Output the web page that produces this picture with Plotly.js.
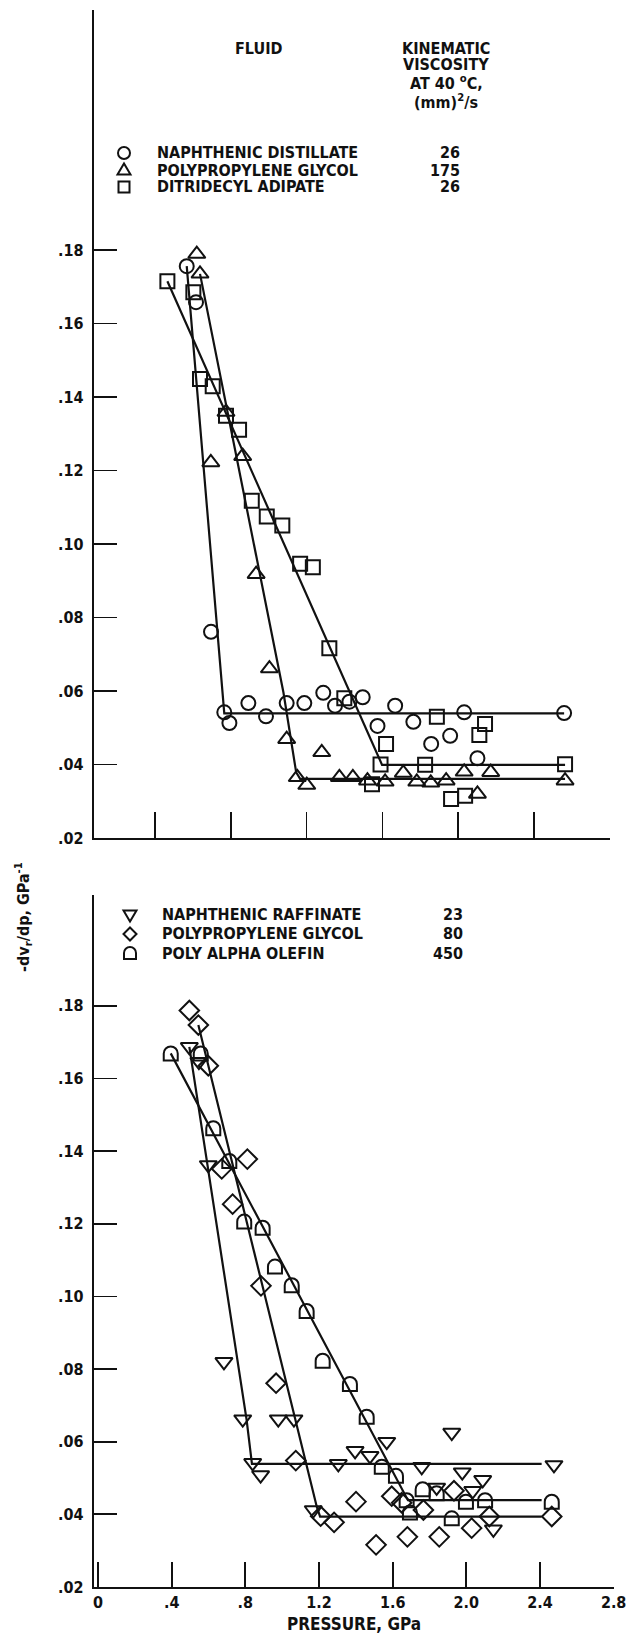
<!DOCTYPE html>
<html>
<head>
<meta charset="utf-8">
<script src="https://cdn.plot.ly/plotly-3.0.1.min.js"></script>
<style>html,body{margin:0;padding:0;background:#fff;}#chart{width:632px;height:1639px;}</style>
</head>
<body>
<div id="chart"></div>
<script>
// ---------- Top panel data ----------
const ndX = [0.568,0.617,0.696,0.766,0.793,0.893,0.986,1.095,1.188,1.288,1.350,1.426,1.496,1.574,1.667,1.763,1.857,1.957,2.031,2.101,2.558];
const ndY = [0.1756,0.1658,0.0761,0.0542,0.0513,0.0567,0.0531,0.0567,0.0567,0.0595,0.0560,0.0571,0.0583,0.0505,0.0560,0.0516,0.0456,0.0478,0.0542,0.0417,0.0540];
const ppg175X = [0.621,0.638,0.775,0.863,0.695,0.934,1.004,1.095,1.280,1.151,1.201,1.373,1.444,1.521,1.614,1.710,1.781,1.855,1.936,2.031,2.171,2.101,2.563];
const ppg175Y = [0.1789,0.1735,0.1359,0.1239,0.1222,0.0918,0.0661,0.0469,0.0433,0.0365,0.0344,0.0365,0.0365,0.0356,0.0353,0.0377,0.0353,0.0350,0.0356,0.0380,0.0379,0.0320,0.0356];
const dtaX = [0.466,0.603,0.638,0.705,0.775,0.844,0.911,0.990,1.072,1.166,1.233,1.320,1.399,1.590,1.545,1.619,1.887,1.825,2.141,2.111,1.962,2.036,2.563];
const dtaY = [0.1715,0.1685,0.1449,0.1429,0.1349,0.1311,0.1118,0.1075,0.1050,0.0946,0.0937,0.0716,0.0580,0.0400,0.0346,0.0456,0.0530,0.0399,0.0510,0.0480,0.0306,0.0315,0.0401];
const ndFitX = [0.568,0.766,2.558];
const ndFitY = [0.1756,0.0539,0.0539];
const ppg175FitX = [0.638,1.078,1.145,1.166,2.563];
const ppg175FitY = [0.1735,0.0596,0.0379,0.0361,0.0361];
const dtaFitX = [0.466,1.598,2.563];
const dtaFitY = [0.1715,0.0399,0.0399];

// ---------- Bottom panel data ----------
const nrX = [0.496,0.548,0.599,0.684,0.786,0.979,1.064,0.840,0.883,1.305,1.396,1.477,1.568,1.758,1.921,1.978,2.089,1.839,2.035,1.169,2.147,2.476];
const nrY = [0.1687,0.1646,0.1362,0.0820,0.0662,0.0662,0.0662,0.0542,0.0508,0.0539,0.0575,0.0561,0.0600,0.0531,0.0625,0.0516,0.0495,0.0474,0.0465,0.0412,0.0359,0.0536];
const ppg80X = [0.496,0.545,0.599,0.811,0.672,0.731,0.885,0.967,1.074,1.209,1.282,1.401,1.595,1.767,1.933,1.510,1.680,1.853,2.029,2.125,2.464,1.649];
const ppg80Y = [0.1787,0.1747,0.1635,0.1378,0.1351,0.1254,0.1029,0.0761,0.0548,0.0395,0.0378,0.0435,0.0450,0.0412,0.0465,0.0316,0.0338,0.0338,0.0362,0.0394,0.0394,0.0432];
const paoX = [0.395,0.558,0.626,0.713,0.794,0.894,0.961,1.052,1.133,1.220,1.368,1.459,1.541,1.618,1.676,1.694,1.763,1.839,1.921,1.998,2.102,2.464];
const paoY = [0.1669,0.1669,0.1463,0.1373,0.1206,0.1189,0.1082,0.1031,0.0960,0.0823,0.0759,0.0669,0.0531,0.0506,0.0439,0.0405,0.0469,0.0458,0.0389,0.0435,0.0439,0.0435];
const nrFitX = [0.496,0.807,0.836,2.409];
const nrFitY = [0.1687,0.0660,0.0539,0.0539];
const ppg80FitX = [0.545,1.188,1.206,2.409];
const ppg80FitY = [0.1747,0.0421,0.0394,0.0394];
const paoFitX = [0.395,1.683,2.409];
const paoFitY = [0.1669,0.0439,0.0439];

// ---------- Tick labels ----------
const yTickVals = [0.02,0.04,0.06,0.08,0.10,0.12,0.14,0.16,0.18];
const yTickText = ['.02','.04','.06','.08','.10','.12','.14','.16','.18'];
const xTickVals = [0,0.4,0.8,1.2,1.6,2.0,2.4,2.8];
const xTickText = ['0','.4','.8','1.2','1.6','2.0','2.4','2.8'];

// ---------- Legend text ----------
const legendTop = ['NAPHTHENIC DISTILLATE','POLYPROPYLENE GLYCOL','DITRIDECYL ADIPATE'];
const viscTop = ['26','175','26'];
const legendBot = ['NAPHTHENIC RAFFINATE','POLYPROPYLENE GLYCOL','POLY ALPHA OLEFIN'];
const viscBot = ['23','80','450'];

const FONT = "'Liberation Sans Narrow', 'DejaVu Sans Condensed', sans-serif";
const INK = '#111';
const W = 632, H = 1639;
const px = v => v / W;
const py = v => 1 - v / H;

function pts(x, y, xa, ya, sym, size) {
  return {x, y, xaxis: xa, yaxis: ya, type: 'scatter', mode: 'markers', hoverinfo: 'skip',
    marker: {symbol: sym, size: size, color: INK, line: {color: INK, width: 2}}};
}
function fit(x, y, xa, ya) {
  return {x, y, xaxis: xa, yaxis: ya, type: 'scatter', mode: 'lines', hoverinfo: 'skip',
    line: {color: INK, width: 2.2}};
}

const traces = [
  fit(ndFitX, ndFitY, 'x', 'y'),
  fit(ppg175FitX, ppg175FitY, 'x', 'y'),
  fit(dtaFitX, dtaFitY, 'x', 'y'),
  pts(ndX, ndY, 'x', 'y', 'circle-open', 14),
  pts(ppg175X, ppg175Y, 'x', 'y', 'triangle-up-open', 15),
  pts(dtaX, dtaY, 'x', 'y', 'square-open', 14),
  fit(nrFitX, nrFitY, 'x2', 'y2'),
  fit(ppg80FitX, ppg80FitY, 'x2', 'y2'),
  fit(paoFitX, paoFitY, 'x2', 'y2'),
  pts(nrX, nrY, 'x2', 'y2', 'triangle-down-open', 15),
  pts(ppg80X, ppg80Y, 'x2', 'y2', 'diamond-open', 15)
];

// arch ("poly alpha olefin") symbol path in pixel units, y up
function archPath(r) {
  const k = 0.5523 * r;
  return `M ${-r} ${-r} L ${-r} 0 C ${-r} ${k} ${-k} ${r} 0 ${r} C ${k} ${r} ${r} ${k} ${r} 0 L ${r} ${-r} Z`;
}
const shapes = [];
for (let i = 0; i < paoX.length; i++) {
  shapes.push({type: 'path', xref: 'x2', yref: 'y2', xsizemode: 'pixel', ysizemode: 'pixel',
    xanchor: paoX[i], yanchor: paoY[i], path: archPath(7),
    line: {color: INK, width: 2}, fillcolor: 'rgba(0,0,0,0)'});
}

// legend symbols (paper positions, pixel-sized)
function legSym(xp, yp, path) {
  shapes.push({type: 'path', xref: 'paper', yref: 'paper', xsizemode: 'pixel', ysizemode: 'pixel',
    xanchor: px(xp), yanchor: py(yp), path: path, line: {color: INK, width: 2}, fillcolor: 'rgba(0,0,0,0)'});
}
function circlePath(r) {
  const k = 0.5523 * r;
  return `M ${-r} 0 C ${-r} ${k} ${-k} ${r} 0 ${r} C ${k} ${r} ${r} ${k} ${r} 0 C ${r} ${-k} ${k} ${-r} 0 ${-r} C ${-k} ${-r} ${-r} ${-k} ${-r} 0 Z`;
}
const triUp = r => `M ${-r} ${-r*0.7} L ${r} ${-r*0.7} L 0 ${r*1.0} Z`;
const triDn = r => `M ${-r} ${r*0.7} L ${r} ${r*0.7} L 0 ${-r*1.0} Z`;
const sq = r => `M ${-r} ${-r} L ${r} ${-r} L ${r} ${r} L ${-r} ${r} Z`;
const dia = r => `M 0 ${r} L ${r} 0 L 0 ${-r} L ${-r} 0 Z`;

const legTopY = [153, 170, 187];
const legBotY = [915, 934, 953];
legSym(124, legTopY[0], circlePath(6));
legSym(124, legTopY[1], triUp(6.5));
legSym(124, legTopY[2], sq(5.5));
legSym(130, legBotY[0], triDn(6.5));
legSym(130, legBotY[1], dia(6.5));
legSym(130, legBotY[2], archPath(6));

const annotations = [];
function txt(text, xp, yp, xanchor, size, extra) {
  annotations.push(Object.assign({text, x: px(xp), y: py(yp), xref: 'paper', yref: 'paper',
    xanchor: xanchor || 'left', yanchor: 'middle', showarrow: false,
    font: {family: FONT, size: size || 16, color: INK, weight: 'bold'}}, extra || {}));
}
txt('FLUID', 258, 48, 'center');
txt('KINEMATIC', 446, 48, 'center');
txt('VISCOSITY', 446, 65, 'center');
txt('AT 40 <sup>o</sup>C,', 446, 83, 'center');
txt('(mm)<sup>2</sup>/s', 446, 102, 'center');
for (let i = 0; i < 3; i++) {
  txt(legendTop[i], 155, legTopY[i], 'left');
  txt(viscTop[i], 462, legTopY[i], 'right');
  txt(legendBot[i], 160, legBotY[i], 'left');
  txt(viscBot[i], 465, legBotY[i], 'right');
}
txt('-dv<sub>r</sub>/dp, GPa<sup>-1</sup>', 23, 917, 'center', 16, {textangle: -90});
txt('PRESSURE, GPa', 354, 1624, 'center', 17);

const axBase = {showline: true, linecolor: INK, linewidth: 2.2, showgrid: false, zeroline: false,
  ticks: 'inside', tickcolor: INK, tickwidth: 1.8,
  tickfont: {family: FONT, size: 16, color: INK, weight: 'bold'},
  mirror: false, fixedrange: true};

const layout = {
  width: W, height: H, margin: {l: 0, r: 0, t: 0, b: 0},
  paper_bgcolor: '#fff', plot_bgcolor: '#fff', showlegend: false,
  xaxis: Object.assign({}, axBase, {domain: [px(94), px(610)], range: [0.079, 2.8], anchor: 'y',
    tickmode: 'array', tickvals: xTickVals.slice(1), showticklabels: false, ticklen: 26}),
  yaxis: Object.assign({}, axBase, {domain: [py(838), py(10)], range: [0.02, 0.2453], anchor: 'x',
    tickmode: 'array', tickvals: yTickVals, ticktext: yTickText, ticklen: 23, ticklabelstandoff: 5}),
  xaxis2: Object.assign({}, axBase, {domain: [px(94), px(614)], range: [-0.0217, 2.802], anchor: 'y2',
    tickmode: 'array', tickvals: xTickVals, ticktext: xTickText, ticklen: 25}),
  yaxis2: Object.assign({}, axBase, {domain: [py(1587), py(895)], range: [0.02, 0.2105], anchor: 'x2',
    tickmode: 'array', tickvals: yTickVals, ticktext: yTickText, ticklen: 23, ticklabelstandoff: 5}),
  shapes, annotations
};

Plotly.newPlot('chart', traces, layout, {staticPlot: true, displayModeBar: false});
</script>
</body>
</html>
